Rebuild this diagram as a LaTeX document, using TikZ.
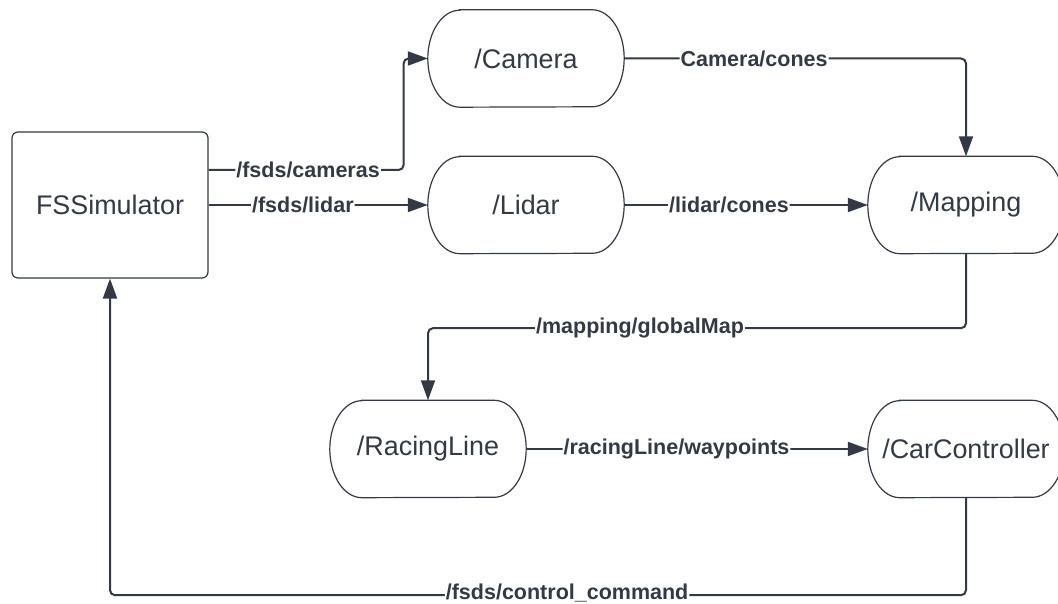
\documentclass[tikz,border=0pt]{standalone}
\usepackage{fontspec}
\setmainfont{Liberation Sans}
\usetikzlibrary{arrows.meta,calc}
\definecolor{ink}{RGB}{51,58,69}
\tikzset{
  boxline/.style={draw=ink, line width=1.2pt},
  term/.style={minimum width=196pt, minimum height=97pt, inner sep=0pt,
    text=ink, font=\fontsize{26.9}{32}\selectfont},
  simbox/.style={boxline, rounded corners=6pt, minimum width=196pt,
    minimum height=146pt, inner sep=0pt, text=ink,
    font=\fontsize{26.9}{32}\selectfont},
  link/.style={draw=ink, line width=2pt, rounded corners=5pt,
    -{Triangle[length=20pt,width=14pt]}},
  topic/.style={fill=white, text=ink, inner sep=1pt,
    font=\bfseries\fontsize{21.5}{26}\selectfont}
}
% stadium-like process node with elliptic ends
\newcommand\termnode[3]{%
  \node[term] (#1) at (#2) {#3};
  \draw[boxline] ([xshift=32pt]#1.north west) -- ([xshift=-32pt]#1.north east)
    arc[start angle=90, end angle=-90, x radius=32pt, y radius=48.5pt]
    -- ([xshift=32pt]#1.south west)
    arc[start angle=270, end angle=90, x radius=32pt, y radius=48.5pt]
    -- cycle;}
\begin{document}
\begin{tikzpicture}[x=1pt,y=1pt]
\useasboundingbox (0,0) rectangle (1058,604);
\fill[white] (0,0) rectangle (1058,604);

\node[simbox] (fs) at (110,399) {FSSimulator};
\termnode{cam}{526,545.5}{/Camera}
\termnode{lid}{526,399}{/Lidar}
\termnode{map}{966,399}{/Mapping}
\termnode{race}{428,155}{/RacingLine}
\termnode{car}{966,155}{/CarController}

\draw[link] ([yshift=35pt]fs.east) -- ++(195,0)
  node[topic, pos=0.51] {/fsds/cameras} |- (cam.west);
\draw[link] (fs.east) -- (lid.west) node[topic, pos=0.43] {/fsds/lidar};
\draw[link] (cam.east) -| (map.north) node[topic, pos=0.19] {Camera/cones};
\draw[link] (lid.east) -- (map.west) node[topic, pos=0.43] {/lidar/cones};
\draw[link] (map.south) -- ++(0,-74.5) -| (race.north)
  node[topic, pos=0.303] {/mapping/globalMap};
\draw[link] (race.east) -- (car.west)
  node[topic, pos=0.44] {/racingLine/waypoints};
\draw[link] (car.south) -- ++(0,-97.5) -| (fs.south)
  node[topic, pos=0.233, yshift=2pt] {/fsds/control\_command};
\end{tikzpicture}
\end{document}
